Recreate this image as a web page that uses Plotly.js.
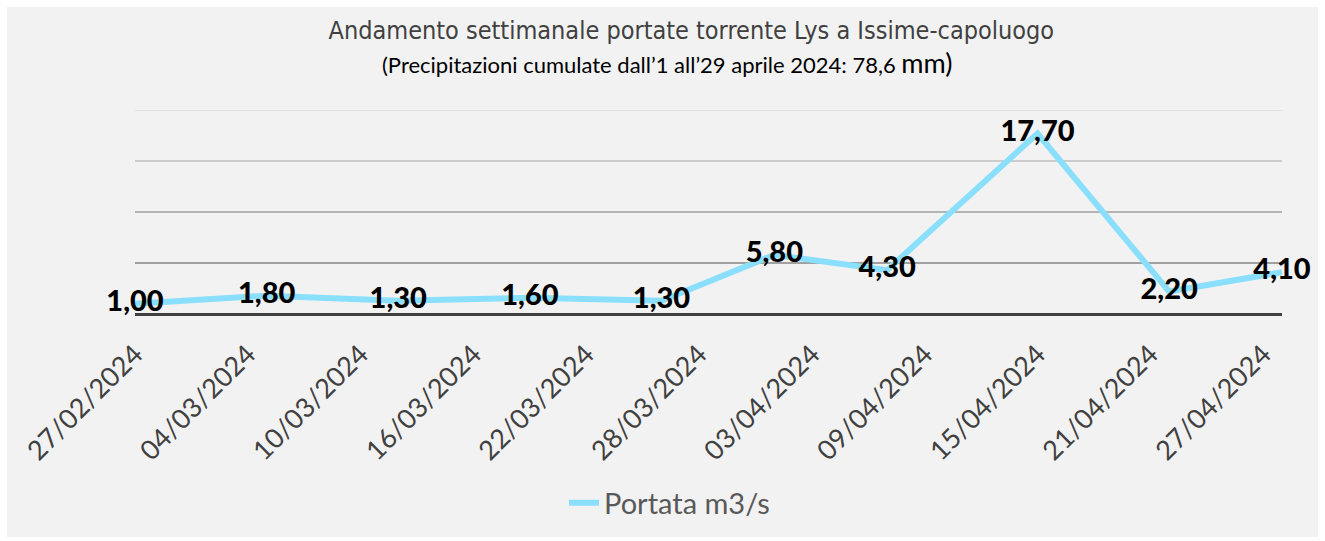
<!DOCTYPE html>
<html>
<head>
<meta charset="utf-8">
<script src="https://cdn.plot.ly/plotly-3.0.1.min.js"></script>
<style>html,body{margin:0;padding:0;background:#fff;}#chart{width:1325px;height:541px;}</style>
</head>
<body>
<div id="chart"></div>
<script>
// Data
const seriesName = "Portata m3/s";
const measureDates = ["2024-02-27","2024-03-05","2024-03-12","2024-03-19","2024-03-26","2024-04-01","2024-04-07","2024-04-15","2024-04-22","2024-04-28"];
const flowValues = [1.00, 1.80, 1.30, 1.60, 1.30, 5.80, 4.30, 17.70, 2.20, 4.10];
const tickDates = ["2024-02-27","2024-03-04","2024-03-10","2024-03-16","2024-03-22","2024-03-28","2024-04-03","2024-04-09","2024-04-15","2024-04-21","2024-04-27"];
const tickLabels = ["27/02/2024","04/03/2024","10/03/2024","16/03/2024","22/03/2024","28/03/2024","03/04/2024","09/04/2024","15/04/2024","21/04/2024","27/04/2024"];
const gridValues = [5, 10, 15, 20];
const gridColors = ["#a0a0a0", "#b4b4b4", "#cccccc", "#e2e2e2"];

const titleText = "Andamento settimanale portate torrente Lys a Issime-capoluogo";
const subtitleText = "(Precipitazioni cumulate dall\u20191 all\u201929 aprile 2024: 78,6 <span style='font-size:27px'>mm)</span>";

const trace = {
  type: "scatter",
  mode: "lines+text",
  x: measureDates,
  y: flowValues,
  name: seriesName,
  line: {color: "#8adffc", width: 6},
  texttemplate: "%{y:.2f}",
  textposition: "middle center",
  textfont: {family: "Lato, 'Open Sans', sans-serif", size: 29, color: "#000000", weight: 900},
  hoverinfo: "skip",
  cliponaxis: false
};

const shapes = [{
  type: "rect", xref: "paper", yref: "paper",
  x0: -0.1116, x1: 1.0314, y0: -1.093, y1: 1.505,
  fillcolor: "#f2f2f2", line: {width: 0}, layer: "below"
}];
gridValues.forEach((v, i) => {
  shapes.push({type: "line", xref: "paper", yref: "y", x0: 0, x1: 1, y0: v, y1: v,
    line: {color: gridColors[i], width: 2}, layer: "below"});
});

const layout = {
  width: 1325, height: 541,
  margin: {l: 135, r: 43, t: 110, b: 227},
  paper_bgcolor: "#ffffff",
  plot_bgcolor: "rgba(0,0,0,0)",
  separators: ",.",
  showlegend: true,
  title: {
    text: titleText,
    font: {family: "'Liberation Sans Narrow', 'DejaVu Sans Condensed', sans-serif", size: 25, color: "#404040", weight: 300},
    x: 0.485, xanchor: "center", xref: "paper",
    y: 0.945, yanchor: "middle", yref: "container"
  },
  annotations: [{
    text: subtitleText, xref: "paper", yref: "paper",
    x: 0.464, xanchor: "center", y: 1.232, yanchor: "middle",
    showarrow: false,
    font: {family: "Lato, sans-serif", size: 22, color: "#000000"}
  }],
  xaxis: {
    type: "date",
    range: ["2024-02-27", "2024-04-28"],
    tickmode: "array",
    tickvals: tickDates,
    ticktext: tickLabels,
    tickangle: -45,
    ticks: "",
    ticklabelstandoff: 18,
    tickfont: {family: "Lato, sans-serif", size: 27, color: "#404040"},
    showgrid: false, zeroline: false, showline: false,
    fixedrange: true
  },
  yaxis: {
    range: [0, 20],
    showgrid: false,
    showticklabels: false,
    ticks: "",
    zeroline: true, zerolinecolor: "#404040", zerolinewidth: 3,
    fixedrange: true
  },
  legend: {
    orientation: "h",
    x: 0.466, xanchor: "center", xref: "paper",
    y: -0.926, yanchor: "middle",
    font: {family: "Lato, sans-serif", size: 29, color: "#595959"},
    bgcolor: "rgba(0,0,0,0)"
  },
  shapes: shapes,
  hovermode: false
};

Plotly.newPlot("chart", [trace], layout, {displayModeBar: false, staticPlot: true});
</script>
</body>
</html>
